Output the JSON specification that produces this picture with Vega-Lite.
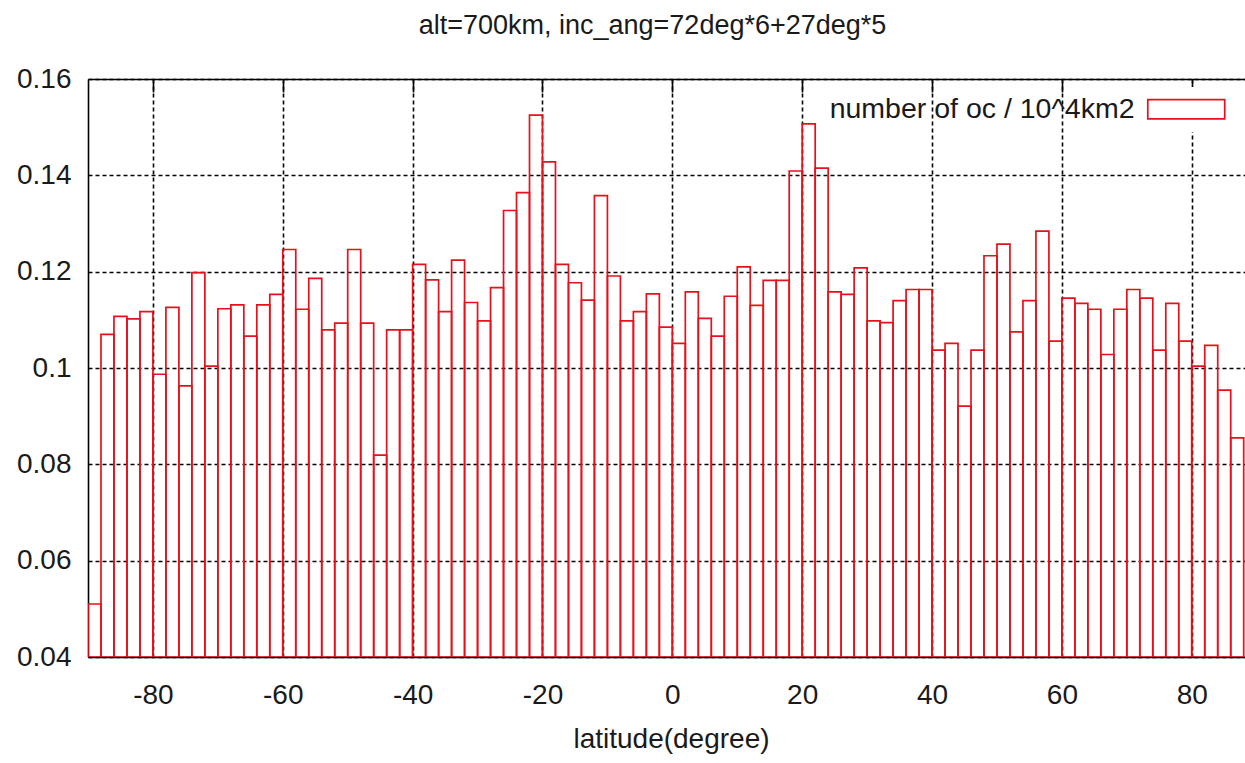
{
  "$schema": "https://vega.github.io/schema/vega-lite/v6.json",
  "width": 1157,
  "height": 578,
  "autosize": "none",
  "padding": {"left": 88, "top": 79, "right": 0, "bottom": 106},
  "background": "white",
  "config": {"view": {"stroke": null}, "font": "Liberation Sans"},
  "title": {
    "text": "alt=700km, inc_ang=72deg*6+27deg*5",
    "fontSize": 27,
    "font": "Liberation Sans",
    "fontWeight": "normal",
    "color": "#1a1a1a",
    "offset": 25,
    "dx": -14
  },
  "data": {
    "values": [
      {"lo": -90, "hi": -88, "v": 0.051},
      {"lo": -88, "hi": -86, "v": 0.107},
      {"lo": -86, "hi": -84, "v": 0.1107},
      {"lo": -84, "hi": -82, "v": 0.1102},
      {"lo": -82, "hi": -80, "v": 0.1117},
      {"lo": -80, "hi": -78, "v": 0.0987},
      {"lo": -78, "hi": -76, "v": 0.1126},
      {"lo": -76, "hi": -74, "v": 0.0963},
      {"lo": -74, "hi": -72, "v": 0.1198},
      {"lo": -72, "hi": -70, "v": 0.1004},
      {"lo": -70, "hi": -68, "v": 0.1123},
      {"lo": -68, "hi": -66, "v": 0.1131},
      {"lo": -66, "hi": -64, "v": 0.1066},
      {"lo": -64, "hi": -62, "v": 0.1131},
      {"lo": -62, "hi": -60, "v": 0.1153},
      {"lo": -60, "hi": -58, "v": 0.1246},
      {"lo": -58, "hi": -56, "v": 0.1122},
      {"lo": -56, "hi": -54, "v": 0.1186},
      {"lo": -54, "hi": -52, "v": 0.1079},
      {"lo": -52, "hi": -50, "v": 0.1093},
      {"lo": -50, "hi": -48, "v": 0.1246},
      {"lo": -48, "hi": -46, "v": 0.1093},
      {"lo": -46, "hi": -44, "v": 0.0819},
      {"lo": -44, "hi": -42, "v": 0.1079},
      {"lo": -42, "hi": -40, "v": 0.1079},
      {"lo": -40, "hi": -38, "v": 0.1215},
      {"lo": -38, "hi": -36, "v": 0.1183},
      {"lo": -36, "hi": -34, "v": 0.1117},
      {"lo": -34, "hi": -32, "v": 0.1224},
      {"lo": -32, "hi": -30, "v": 0.1136},
      {"lo": -30, "hi": -28, "v": 0.1098},
      {"lo": -28, "hi": -26, "v": 0.1167},
      {"lo": -26, "hi": -24, "v": 0.1327},
      {"lo": -24, "hi": -22, "v": 0.1364},
      {"lo": -22, "hi": -20, "v": 0.1525},
      {"lo": -20, "hi": -18, "v": 0.1428},
      {"lo": -18, "hi": -16, "v": 0.1215},
      {"lo": -16, "hi": -14, "v": 0.1177},
      {"lo": -14, "hi": -12, "v": 0.1141},
      {"lo": -12, "hi": -10, "v": 0.1358},
      {"lo": -10, "hi": -8, "v": 0.1191},
      {"lo": -8, "hi": -6, "v": 0.1098},
      {"lo": -6, "hi": -4, "v": 0.1117},
      {"lo": -4, "hi": -2, "v": 0.1154},
      {"lo": -2, "hi": 0, "v": 0.1085},
      {"lo": 0, "hi": 2, "v": 0.1051},
      {"lo": 2, "hi": 4, "v": 0.1158},
      {"lo": 4, "hi": 6, "v": 0.1103},
      {"lo": 6, "hi": 8, "v": 0.1066},
      {"lo": 8, "hi": 10, "v": 0.1149},
      {"lo": 10, "hi": 12, "v": 0.121},
      {"lo": 12, "hi": 14, "v": 0.113},
      {"lo": 14, "hi": 16, "v": 0.1182},
      {"lo": 16, "hi": 18, "v": 0.1182},
      {"lo": 18, "hi": 20, "v": 0.1409},
      {"lo": 20, "hi": 22, "v": 0.1507},
      {"lo": 22, "hi": 24, "v": 0.1415},
      {"lo": 24, "hi": 26, "v": 0.1158},
      {"lo": 26, "hi": 28, "v": 0.1153},
      {"lo": 28, "hi": 30, "v": 0.1208},
      {"lo": 30, "hi": 32, "v": 0.1098},
      {"lo": 32, "hi": 34, "v": 0.1094},
      {"lo": 34, "hi": 36, "v": 0.114},
      {"lo": 36, "hi": 38, "v": 0.1163},
      {"lo": 38, "hi": 40, "v": 0.1163},
      {"lo": 40, "hi": 42, "v": 0.1037},
      {"lo": 42, "hi": 44, "v": 0.1051},
      {"lo": 44, "hi": 46, "v": 0.0921},
      {"lo": 46, "hi": 48, "v": 0.1037},
      {"lo": 48, "hi": 50, "v": 0.1233},
      {"lo": 50, "hi": 52, "v": 0.1257},
      {"lo": 52, "hi": 54, "v": 0.1075},
      {"lo": 54, "hi": 56, "v": 0.114},
      {"lo": 56, "hi": 58, "v": 0.1284},
      {"lo": 58, "hi": 60, "v": 0.1056},
      {"lo": 60, "hi": 62, "v": 0.1145},
      {"lo": 62, "hi": 64, "v": 0.1134},
      {"lo": 64, "hi": 66, "v": 0.1122},
      {"lo": 66, "hi": 68, "v": 0.1028},
      {"lo": 68, "hi": 70, "v": 0.1122},
      {"lo": 70, "hi": 72, "v": 0.1163},
      {"lo": 72, "hi": 74, "v": 0.1145},
      {"lo": 74, "hi": 76, "v": 0.1037},
      {"lo": 76, "hi": 78, "v": 0.1134},
      {"lo": 78, "hi": 80, "v": 0.1056},
      {"lo": 80, "hi": 82, "v": 0.1004},
      {"lo": 82, "hi": 84, "v": 0.1047},
      {"lo": 84, "hi": 86, "v": 0.0954},
      {"lo": 86, "hi": 88, "v": 0.0855}
    ]
  },
  "layer": [
    {
      "mark": {"type": "bar", "filled": false, "strokeWidth": 1.7, "clip": true},
      "encoding": {
        "x": {
          "field": "lo",
          "type": "quantitative",
          "scale": {"domain": [-90, 88.2], "nice": false, "zero": false},
          "axis": {
            "values": [-80, -60, -40, -20, 0, 20, 40, 60, 80],
            "labelExpr": "toString(datum.value)",
            "labelFontSize": 28,
            "labelColor": "#1a1a1a",
            "labelPadding": 24,
            "labelDx": 3,
            "labelFlush": false,
            "labelOverlap": false,
            "ticks": false,
            "title": "latitude(degree)",
            "titleFontSize": 28,
            "titleFontWeight": "normal",
            "titleColor": "#1a1a1a",
            "titleBaseline": "alphabetic",
            "titleY": 90,
            "titleX": 583,
            "grid": true,
            "gridColor": "black",
            "gridDash": [4, 3],
            "gridWidth": 1.6,
            "gridOpacity": 1,
            "domainColor": "black",
            "domainWidth": 1.6
          }
        },
        "x2": {"field": "hi"},
        "y": {
          "field": "v",
          "type": "quantitative",
          "scale": {"domain": [0.04, 0.16], "nice": false, "zero": false},
          "axis": {
            "values": [0.04, 0.06, 0.08, 0.1, 0.12, 0.14, 0.16],
            "format": "~g",
            "title": null,
            "labelFontSize": 28,
            "labelColor": "#1a1a1a",
            "labelPadding": 17,
            "labelFlush": false,
            "labelOverlap": false,
            "ticks": false,
            "grid": true,
            "gridColor": "black",
            "gridDash": [4, 3],
            "gridWidth": 1.6,
            "gridOpacity": 1,
            "domainColor": "black",
            "domainWidth": 1.6
          }
        },
        "y2": {"datum": 0.04},
        "stroke": {
          "datum": "number of oc / 10^4km2",
          "type": "nominal",
          "scale": {"range": ["#e8101a"]},
          "legend": {
            "title": null,
            "orient": "top-right",
            "offset": 8,
            "padding": 8,
            "fillColor": "white",
            "symbolType": "M-4,-1H4V1H-4Z",
            "symbolSize": 370,
            "symbolStrokeWidth": 1.7,
            "labelOffset": -66,
            "labelAlign": "right",
            "labelBaseline": "middle",
            "labelFontSize": 28.5,
            "labelColor": "#1a1a1a",
            "labelLimit": 600
          }
        }
      }
    },
    {
      "mark": {"type": "rule", "opacity": 0},
      "encoding": {
        "x": {
          "field": "lo",
          "type": "quantitative",
          "axis": {
            "orient": "top",
            "values": [-80, -60, -40, -20, 0, 20, 40, 60, 80],
            "labels": false,
            "title": null,
            "grid": false,
            "ticks": true,
            "tickSize": -13,
            "tickColor": "black",
            "tickWidth": 1.6,
            "domainColor": "black",
            "domainWidth": 1.6
          }
        }
      }
    }
  ],
  "resolve": {"axis": {"x": "independent"}}
}
